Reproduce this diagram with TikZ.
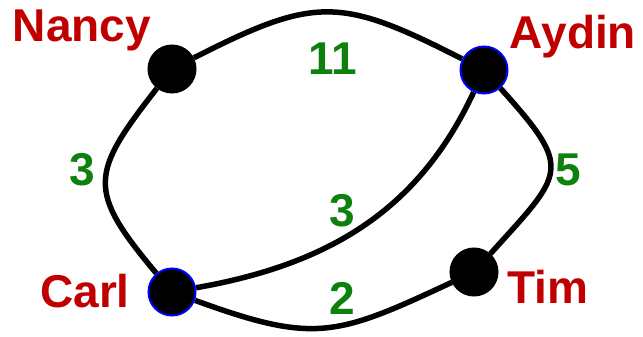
\documentclass[tikz,border=0pt]{standalone}
\usepackage{fontspec}
\setmainfont{Liberation Sans}
\usepackage{tikz}
\usetikzlibrary{positioning}
\definecolor{NameRed}{HTML}{C00000}
\definecolor{WeightGreen}{HTML}{0E800E}

\begin{document}
\begin{tikzpicture}[x=1pt, y=1pt,
    every node/.style={font=\fontsize{46}{50}\selectfont\bfseries},
    vertex/.style={circle, fill=black, draw=black, line width=2pt, minimum size=47pt, inner sep=0pt},
    visited/.style={vertex, draw=blue},
    namelabel/.style={text=NameRed, anchor=base, inner sep=0pt},
    weight/.style={text=WeightGreen, anchor=base, inner sep=0pt},
    link/.style={line width=5.5pt}]
  \useasboundingbox (0,0) rectangle (643,337);
  % Vertices
  \node[vertex]  (nancy) at (172,268) {};
  \node[visited] (aydin) at (484,267) {};
  \node[visited] (carl)  at (172,45)  {};
  \node[vertex]  (tim)   at (474,65)  {};
  % Names
  \node[namelabel] (nancyname) at (82,295)  {Nancy};
  \node[namelabel] (aydinname) at (573,288) {Aydin};
  \node[namelabel] (carlname)  at (85,29)   {Carl};
  \node[namelabel] (timname)   at (548,33)  {Tim};
  % Edges
  \draw[link] (nancy) to[out=27, in=153, looseness=1.3] (aydin);
  \draw[link] (nancy) to[out=232, in=130, looseness=1.5] (carl);
  \draw[link] (aydin) to[out=312, in=48, looseness=1.7] (tim);
  \draw[link] (carl) to[out=-20, in=205, looseness=1.27] (tim);
  \draw[link] (carl) to[out=10, in=245, looseness=1] (aydin);
  % Weights
  \node[weight] (w11) at (333,262) {11};
  \node[weight] (w3a) at (82,151)  {3};
  \node[weight] (w5)  at (568,151) {5};
  \node[weight] (w3b) at (342,110) {3};
  \node[weight] (w2)  at (342,22)  {2};
\end{tikzpicture}
\end{document}
